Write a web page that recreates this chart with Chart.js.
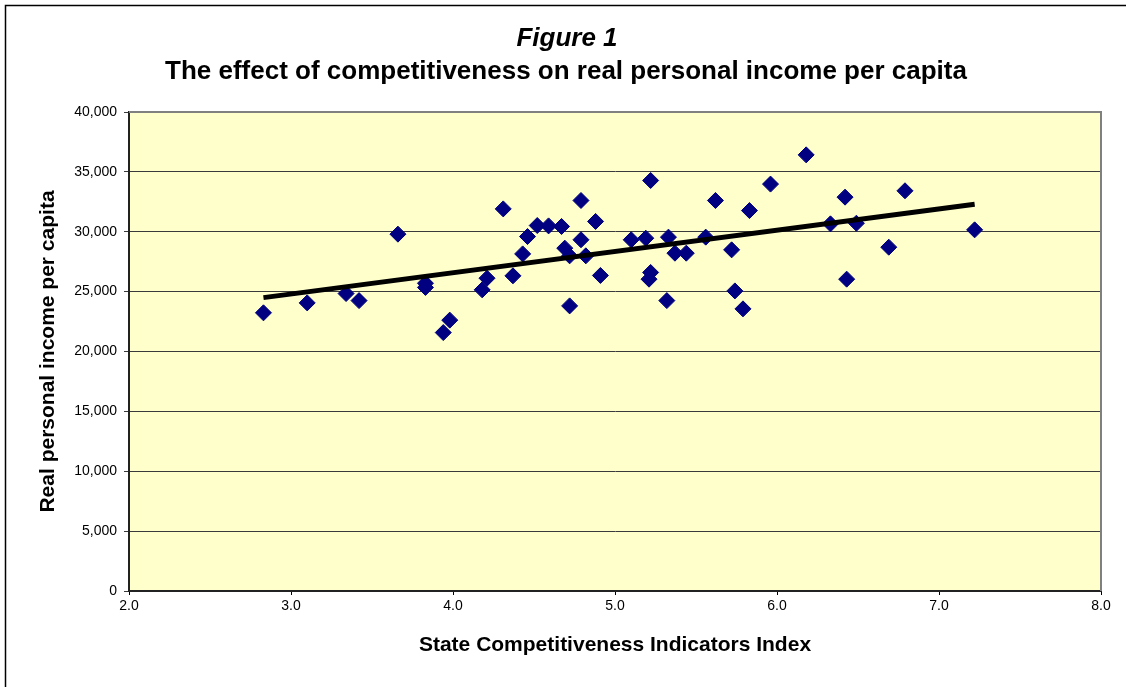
<!DOCTYPE html>
<html>
<head>
<meta charset="utf-8">
<title>Figure 1</title>
<script src="https://cdn.jsdelivr.net/npm/chart.js@4/dist/chart.umd.min.js"></script>
<style>
  html, body { margin: 0; padding: 0; background: #fff; }
  #wrap { width: 1126px; height: 687px; }
</style>
</head>
<body>
<div id="wrap"><canvas id="chart" width="1126" height="687"></canvas></div>
<script>
/* ------------------------------------------------------------
   Figure 1 — competitiveness vs real personal income per capita
   ------------------------------------------------------------ */
const FONT = '"Liberation Sans", Arial, Helvetica, sans-serif';

const figureLabel = 'Figure 1';
const chartTitle  = 'The effect of competitiveness on real personal income per capita';
const xTitle      = 'State Competitiveness Indicators Index';
const yTitle      = 'Real personal income per capita';

// one entry per state (index value, income)
const indexValues = [
  2.83, 3.10, 3.34, 3.42, 3.66, 3.83, 3.83, 3.98, 3.94, 4.18,
  4.21, 4.31, 4.37, 4.43, 4.46, 4.52, 4.59, 4.67, 4.79, 4.69,
  4.72, 4.79, 4.82, 4.88, 4.91, 4.72, 5.10, 5.19, 5.22, 5.22,
  5.21, 5.32, 5.33, 5.37, 5.44, 5.56, 5.62, 5.72, 5.74, 5.79,
  5.83, 5.96, 6.18, 6.33, 6.42, 6.43, 6.49, 6.69, 6.79, 7.22
];
const incomeValues = [
  23230, 24060, 24840, 24250, 29800, 25700, 25350, 22620, 21580, 25150,
  26120, 31910, 26320, 28150, 29600, 30520, 30490, 30440, 32610, 28630,
  27990, 29330, 27990, 30860, 26350, 23810, 29330, 29460, 34280, 26600,
  26040, 24250, 29550, 28210, 28210, 29550, 32610, 28490, 25060, 23560,
  31770, 33980, 36420, 30660, 32890, 26040, 30710, 28710, 33420, 30160
];

// linear trend line, end points
const trendX = [2.83, 7.22];
const trendY = [24500, 32300];

// axis ticks
const xTicks = [2, 3, 4, 5, 6, 7, 8];
const yTicks = [0, 5000, 10000, 15000, 20000, 25000, 30000, 35000, 40000];

const points = indexValues.map((x, i) => ({ x, y: incomeValues[i] }));
const trend  = trendX.map((x, i) => ({ x, y: trendY[i] }));

const fmtThousands = v => String(Math.round(v)).replace(/\B(?=(\d{3})+(?!\d))/g, ',');

// plot background, outer frame, titles
const framePlugin = {
  id: 'frame',
  beforeDraw(chart) {
    const { ctx, chartArea: a } = chart;
    ctx.save();
    ctx.fillStyle = '#FFFFCC';
    ctx.fillRect(a.left, a.top, a.right - a.left, a.bottom - a.top);
    // outer chart frame (cut off on the right and bottom)
    ctx.strokeStyle = '#000';
    ctx.lineWidth = 1.5;
    ctx.beginPath();
    ctx.moveTo(5.5, chart.height + 2);
    ctx.lineTo(5.5, 5.5);
    ctx.lineTo(chart.width + 2, 5.5);
    ctx.stroke();
    ctx.restore();
  },
  beforeDatasetsDraw(chart) {
    const { ctx, chartArea: a } = chart;
    ctx.save();
    ctx.strokeStyle = '#808080';
    ctx.lineWidth = 2;
    ctx.beginPath();
    ctx.moveTo(a.left, a.top);
    ctx.lineTo(a.right, a.top);
    ctx.lineTo(a.right, a.bottom);
    ctx.stroke();
    ctx.restore();
  },
  afterDraw(chart) {
    const { ctx } = chart;
    ctx.save();
    ctx.fillStyle = '#000';
    ctx.textAlign = 'center';
    ctx.textBaseline = 'alphabetic';
    ctx.font = `italic bold 26px ${FONT}`;
    ctx.fillText(figureLabel, 567, 46);
    ctx.font = `bold 26px ${FONT}`;
    ctx.fillText(chartTitle, 566, 79);
    ctx.restore();
  }
};

new Chart(document.getElementById('chart'), {
  type: 'scatter',
  data: {
    datasets: [
      {
        type: 'line',
        label: 'Trend',
        data: trend,
        borderColor: '#000',
        borderWidth: 5,
        pointRadius: 0,
        fill: false,
        order: 0
      },
      {
        label: 'States',
        data: points,
        pointStyle: 'rectRot',
        pointRadius: 8,
        pointBackgroundColor: '#000080',
        pointBorderColor: '#000080',
        pointBorderWidth: 1,
        order: 1
      }
    ]
  },
  options: {
    responsive: false,
    animation: false,
    events: [],
    layout: { padding: { left: 0, right: 25, top: 112, bottom: 0 } },
    plugins: {
      legend: { display: false },
      tooltip: { enabled: false },
      title: { display: false }
    },
    scales: {
      x: {
        type: 'linear',
        min: 2, max: 8,
        afterBuildTicks: s => { s.ticks = xTicks.map(v => ({ value: v })); },
        afterFit: s => { s.height = 96; },
        ticks: {
          color: '#000',
          font: { family: FONT, size: 14 },
          padding: 3,
          maxRotation: 0,
          callback: v => Number(v).toFixed(1)
        },
        grid: { drawOnChartArea: false, drawTicks: true, tickLength: 4, color: '#000' },
        border: { display: true, color: '#222', width: 2 },
        title: {
          display: true,
          text: xTitle,
          color: '#000',
          font: { family: FONT, size: 21, weight: 'bold' },
          padding: { top: 0, bottom: 29 }
        }
      },
      y: {
        type: 'linear',
        min: 0, max: 40000,
        afterBuildTicks: s => { s.ticks = yTicks.map(v => ({ value: v })); },
        afterFit: s => { s.width = 129; },
        ticks: {
          color: '#000',
          font: { family: FONT, size: 14 },
          padding: 7,
          callback: v => fmtThousands(v)
        },
        grid: { drawTicks: true, tickLength: 5, color: '#3a3a3a', lineWidth: 1 },
        border: { display: true, color: '#222', width: 2 },
        title: {
          display: true,
          text: yTitle,
          color: '#000',
          font: { family: FONT, size: 21, weight: 'bold' },
          padding: { top: 36, bottom: 0 }
        }
      }
    }
  },
  plugins: [framePlugin]
});
</script>
</body>
</html>
